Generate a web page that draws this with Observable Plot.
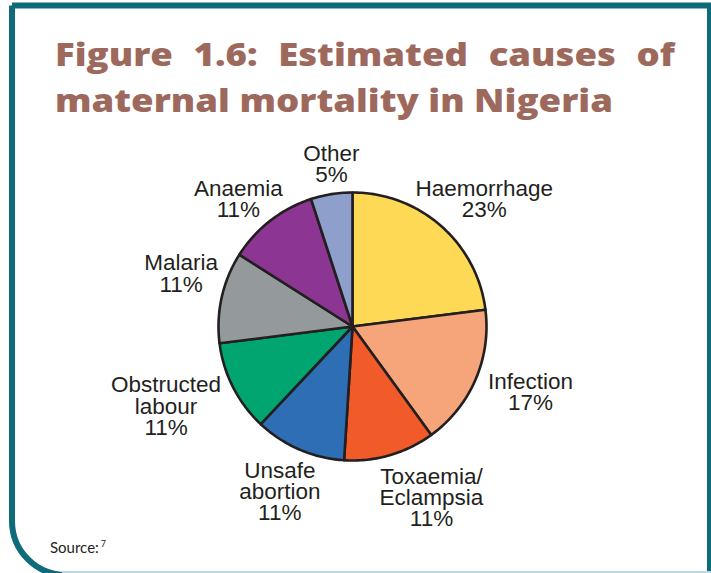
<!DOCTYPE html>
<html>
<head>
<meta charset="utf-8">
<script src="https://cdn.jsdelivr.net/npm/d3@7"></script>
<script src="https://cdn.jsdelivr.net/npm/@observablehq/plot@0.6"></script>
<style>
  html, body { margin: 0; padding: 0; background: #fff; }
  #page { position: relative; width: 711px; height: 573px; overflow: hidden; background: #fff; }
  #frame { position: absolute; left: 0; top: 0; }
  .title { position: absolute; left: 55px; font-family: "Open Sans", Lato, sans-serif; font-weight: 800; font-size: 32px; line-height: 32px; color: #9e695d; white-space: nowrap; transform-origin: 0 0; }
  #t1 { top: 38px; display: flex; justify-content: space-between; }
  #t2 { top: 84px; }
  #chart { position: absolute; left: 0; top: 130px; }
  #source { position: absolute; left: 50px; top: 538px; font-family: Lato, "Open Sans", sans-serif; font-size: 15px; color: #231f20; }
  #source sup { font-size: 9px; vertical-align: 6px; margin-left: 2px; }
</style>
</head>
<body>
<div id="page">
  <svg id="frame" width="711" height="573">
    <path d="M12,5.5 L713,5.5 M710,5.5 L710,580 M12,5.5 L12,521 A54,54 0 0 0 66,575 L711,575" fill="none" stroke="#0f6b79" stroke-width="6"/>
    <rect x="62" y="571" width="650" height="2" fill="#bcd9de"/>
  </svg>
  <div class="title" id="t1"></div>
  <div class="title" id="t2"></div>
  <div id="chart"></div>
  <div id="source">Source:<sup>7</sup></div>
</div>
<script>
// ---- data ----
const causes = ["Haemorrhage", "Infection", "Toxaemia/Eclampsia", "Unsafe abortion", "Obstructed labour", "Malaria", "Anaemia", "Other"];
const labelTexts = ["Haemorrhage", "Infection", "Toxaemia/\nEclampsia", "Unsafe\nabortion", "Obstructed\nlabour", "Malaria", "Anaemia", "Other"];
const shares = [23, 17, 11, 11, 11, 11, 11, 5];
const colors = ["#fed955", "#f6a57b", "#f15a29", "#2e6eb5", "#00a56f", "#949a9c", "#8c3592", "#8f9fcb"];
const titleLine1 = "Figure 1.6: Estimated causes of";
const titleLine2 = "maternal mortality in Nigeria";

// ---- title (line 1 justified, glyphs widened to the reference width) ----
const t1 = document.getElementById("t1");
const t2 = document.getElementById("t2");
t2.textContent = titleLine2;
const tw = t2.getBoundingClientRect().width;
const sx = 558 / tw;
t2.style.transform = `scaleX(${sx})`;
titleLine1.split(" ").forEach(w => {
  const s = document.createElement("span");
  s.textContent = w;
  t1.appendChild(s);
});
t1.style.width = (620 / sx) + "px";
t1.style.transform = `scaleX(${sx})`;

// ---- layout (pixel units relative to pie centre) ----
const W = 711, H = 443;
const cx = 352, cy = 196; // pie centre inside the svg
const R = 134;
const fontSize = 22.5, lineH = 0.94;
const labelNudge = {
  "Haemorrhage": [-10, -2], "Infection": [6, 0], "Toxaemia/Eclampsia": [24, 2],
  "Unsafe abortion": [1, 3], "Obstructed labour": [-8, 0], "Malaria": [6, -16],
  "Anaemia": [2, 4], "Other": [6, 2]
};

const canvas = document.createElement("canvas");
const ctx = canvas.getContext("2d");
const arcs = d3.pie().sort(null).value(d => d)(shares);
const wedgePts = [];
const labels = [];
ctx.font = "23px 'Liberation Sans'";
arcs.forEach((a, i) => {
  const name = causes[i];
  wedgePts.push({name, x: 0, y: 0});
  const n = Math.max(2, Math.ceil((a.endAngle - a.startAngle) / (Math.PI / 180)));
  for (let k = 0; k <= n; k++) {
    const t = a.startAngle + (a.endAngle - a.startAngle) * k / n;
    wedgePts.push({name, x: R * Math.sin(t), y: -R * Math.cos(t)});
  }
  wedgePts.push({name, x: 0, y: 0});
  const mid = (a.startAngle + a.endAngle) / 2;
  const lines = (labelTexts[i] + "\n" + shares[i] + "%").split("\n");
  const w = d3.max(lines, l => ctx.measureText(l).width);
  const h = lines.length * 22;
  const rp = R + 10;
  const [dx, dy] = labelNudge[name];
  labels.push({
    name,
    text: lines.join("\n"),
    x: rp * Math.sin(mid) + Math.sin(mid) * w / 2 + dx,
    y: -rp * Math.cos(mid) - Math.cos(mid) * h / 2 + dy
  });
});

const chart = Plot.plot({
  width: W,
  height: H,
  margin: 0,
  x: {domain: [-cx, W - cx], range: [0, W], axis: null},
  y: {domain: [-cy, H - cy], range: [0, H], axis: null},
  color: {domain: causes, range: colors},
  style: {background: "transparent", overflow: "visible"},
  marks: [
    Plot.line(wedgePts, {x: "x", y: "y", z: "name", fill: "name", stroke: "#231f20", strokeWidth: 2.6, strokeLinejoin: "round", curve: "linear"}),
    Plot.text(labels, {x: "x", y: "y", text: "text", textAnchor: "middle", lineAnchor: "middle", lineHeight: lineH, fontSize: fontSize, fontFamily: "'Liberation Sans', Arial, sans-serif", fill: "#231f20"})
  ]
});
document.getElementById("chart").appendChild(chart);
</script>
</body>
</html>
